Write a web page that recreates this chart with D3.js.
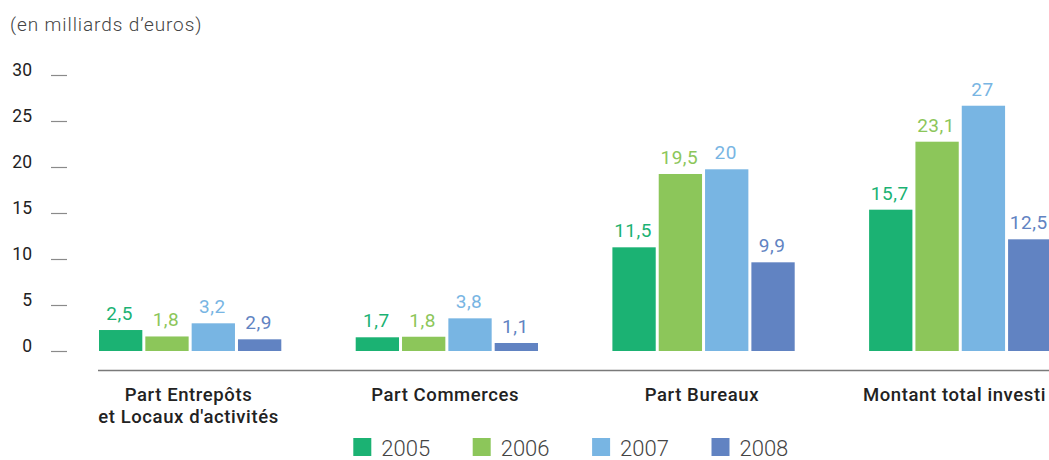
<!DOCTYPE html>
<html>
<head>
<meta charset="utf-8">
<script src="https://cdn.jsdelivr.net/npm/d3@7"></script>
<style>
  body { margin: 0; background: #fff; }
  svg { display: block; font-family: Roboto, "Noto Sans", sans-serif; }
</style>
</head>
<body>
<div id="wrapper"></div>
<script>
const categories = [
  ["Part Entrepôts", "et Locaux d'activités"],
  ["Part Commerces"],
  ["Part Bureaux"],
  ["Montant total investi"]
]
const years = ["2005", "2006", "2007", "2008"]

// printed values above the bars
const labels2005 = [2.5, 1.7, 11.5, 15.7]
const labels2006 = [1.8, 1.8, 19.5, 23.1]
const labels2007 = [3.2, 3.8, 20, 27]
const labels2008 = [2.9, 1.1, 9.9, 12.5]

// bar heights as drawn in the picture
const bars2005 = [2.28, 1.49, 11.27, 15.36]
const bars2006 = [1.58, 1.55, 19.24, 22.75]
const bars2007 = [3.01, 3.55, 19.75, 26.66]
const bars2008 = [1.27, 0.87, 9.64, 12.14]

const yTicks = [0, 5, 10, 15, 20, 25, 30]
const colors = ["#1bb273", "#8cc65a", "#78b5e3", "#6183c2"]

const labelsByYear = [labels2005, labels2006, labels2007, labels2008]
const barsByYear = [bars2005, bars2006, bars2007, bars2008]

const dataset = categories.map((c, i) => ({
  key: c.join(" "),
  lines: c,
  values: years.map((y, j) => ({year: y, bar: barsByYear[j][i], label: labelsByYear[j][i]}))
}))

const dimensions = { width: 1049, height: 460 }

const wrapper = d3.select("#wrapper")
  .append("svg")
    .attr("width", dimensions.width)
    .attr("height", dimensions.height)

const fmt = v => Number.isInteger(v) ? String(v) : v.toFixed(1).replace(".", ",")

const yScale = d3.scaleLinear()
    .domain([0, 30])
    .range([351, 75])

const x0 = d3.scaleBand()
    .domain(dataset.map(d => d.key))
    .range([99, 1054.1])
    .paddingInner(0.2793)
    .paddingOuter(0)

const x1 = d3.scaleBand()
    .domain(years)
    .range([0, 182.3])
    .paddingInner(0.065)
    .paddingOuter(0)

const color = d3.scaleOrdinal().domain(years).range(colors)

// unit note
wrapper.append("text")
    .attr("x", 10)
    .attr("y", 31)
    .attr("fill", "#444")
    .style("font-size", "19px")
    .style("font-weight", 300)
    .style("letter-spacing", "0.9px")
    .text("(en milliards d\u2019euros)")

// y axis: short dashes with labels
const yAxis = wrapper.append("g")
yAxis.selectAll("line")
  .data(yTicks)
  .enter().append("line")
    .attr("x1", 51)
    .attr("x2", 67)
    .attr("y1", d => yScale(d) + 0.5)
    .attr("y2", d => yScale(d) + 0.5)
    .attr("stroke", "#8a8a8a")
    .attr("stroke-width", 1.2)
yAxis.selectAll("text")
  .data(yTicks)
  .enter().append("text")
    .attr("x", 32)
    .attr("y", d => yScale(d) + 1)
    .attr("text-anchor", "end")
    .attr("fill", "#222")
    .style("font-size", "17.5px")
    .text(d => d)

// bars
const groups = wrapper.append("g").selectAll("g")
  .data(dataset)
  .enter().append("g")
    .attr("transform", d => `translate(${x0(d.key)},0)`)

groups.selectAll("rect")
  .data(d => d.values)
  .enter().append("rect")
    .attr("x", d => x1(d.year))
    .attr("y", d => yScale(d.bar))
    .attr("width", x1.bandwidth())
    .attr("height", d => yScale(0) - yScale(d.bar))
    .attr("fill", d => color(d.year))

groups.selectAll("text.value")
  .data(d => d.values)
  .enter().append("text")
    .attr("class", "value")
    .attr("x", d => x1(d.year) + x1.bandwidth() / 2 - 1)
    .attr("y", d => yScale(d.bar) - 10)
    .attr("text-anchor", "middle")
    .attr("fill", d => color(d.year))
    .style("font-size", "19px")
    .style("letter-spacing", "0.5px")
    .text(d => fmt(d.label))

// x axis line
wrapper.append("line")
    .attr("x1", 98)
    .attr("x2", dimensions.width)
    .attr("y1", 370.5)
    .attr("y2", 370.5)
    .attr("stroke", "#7a7a7a")
    .attr("stroke-width", 1.3)

// category labels
const catLabels = wrapper.append("g").selectAll("text")
  .data(dataset)
  .enter().append("text")
    .attr("x", d => x0(d.key) + x0.bandwidth() / 2 - 3)
    .attr("y", 400.5)
    .attr("text-anchor", "middle")
    .attr("fill", "#222")
    .style("font-size", "18.5px")
    .style("font-weight", 500)
    .style("letter-spacing", "0.6px")
catLabels.selectAll("tspan")
  .data(d => d.lines)
  .enter().append("tspan")
    .attr("x", function() { return d3.select(this.parentNode).attr("x") })
    .attr("dy", (d, i) => i === 0 ? 0 : 22.7)
    .text(d => d)

// keep the last label inside the picture
catLabels.each(function() {
  const box = this.getBBox()
  const overflow = box.x + box.width - (dimensions.width - 3)
  if (overflow > 0) {
    const x = +d3.select(this).attr("x") - overflow
    d3.select(this).attr("x", x).selectAll("tspan").attr("x", x)
  }
})

// legend
const legend = wrapper.append("g").selectAll("g")
  .data(years)
  .enter().append("g")
    .attr("transform", (d, i) => `translate(${353.3 + i * 119.4},438)`)
legend.append("rect")
    .attr("width", 18)
    .attr("height", 18)
    .attr("fill", d => color(d))
legend.append("text")
    .attr("x", 28)
    .attr("y", 18)
    .attr("fill", "#444")
    .style("font-size", "22px")
    .style("font-weight", 300)
    .text(d => d)
</script>
</body>
</html>
